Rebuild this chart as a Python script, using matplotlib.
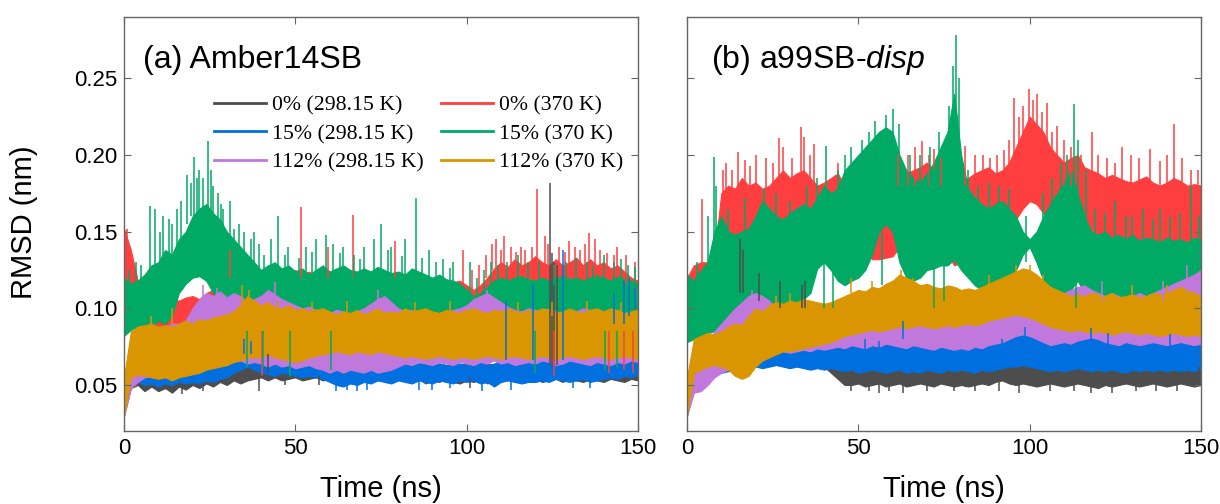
import numpy as np
import matplotlib
matplotlib.use("Agg")
import matplotlib.pyplot as plt
from matplotlib.lines import Line2D
from matplotlib.ticker import FormatStrFormatter

plt.rcParams['font.family'] = ['Liberation Sans', 'DejaVu Sans']
plt.rcParams['mathtext.fontset'] = 'custom'
plt.rcParams['mathtext.rm'] = 'Liberation Sans'
plt.rcParams['mathtext.it'] = 'Liberation Sans:italic'

# time axis (ns): band edges every 2 ns
t = np.arange(0, 151, 2)

labels = ['0% (298.15 K)', '0% (370 K)', '15% (298.15 K)',
          '15% (370 K)', '112% (298.15 K)', '112% (370 K)']
colors = ['#4d4d4d', '#ff3f3f', '#0070e0', '#00aa64', '#c078dc', '#da9600']

# ---------------- (a) Amber14SB ----------------
a0_hi = [0.045, 0.058, 0.060, 0.062, 0.060, 0.062, 0.060, 0.063, 0.061, 0.062,
         0.063, 0.062, 0.064, 0.063, 0.065, 0.064, 0.066, 0.065, 0.064, 0.066,
         0.068, 0.066, 0.065, 0.064, 0.066, 0.064, 0.065, 0.064, 0.063, 0.065,
         0.064, 0.063, 0.064, 0.062, 0.063, 0.064, 0.062, 0.063, 0.064, 0.063,
         0.064, 0.063, 0.062, 0.064, 0.063, 0.062, 0.064, 0.063, 0.062, 0.063,
         0.064, 0.063, 0.062, 0.064, 0.063, 0.062, 0.063, 0.064, 0.063, 0.062,
         0.064, 0.063, 0.070, 0.072, 0.064, 0.063, 0.062, 0.063, 0.064, 0.063,
         0.062, 0.063, 0.064, 0.063, 0.062, 0.063]
a0_lo = [0.030, 0.048, 0.050, 0.046, 0.049, 0.046, 0.048, 0.045, 0.049, 0.047,
         0.050, 0.048, 0.051, 0.049, 0.052, 0.050, 0.053, 0.051, 0.053, 0.054,
         0.055, 0.053, 0.055, 0.053, 0.054, 0.055, 0.053, 0.054, 0.055, 0.053,
         0.054, 0.053, 0.055, 0.054, 0.053, 0.055, 0.054, 0.053, 0.055, 0.054,
         0.053, 0.055, 0.052, 0.054, 0.051, 0.053, 0.052, 0.054, 0.052, 0.051,
         0.053, 0.052, 0.054, 0.051, 0.053, 0.052, 0.054, 0.052, 0.053, 0.052,
         0.054, 0.052, 0.053, 0.054, 0.052, 0.054, 0.053, 0.052, 0.054, 0.053,
         0.052, 0.054, 0.053, 0.052, 0.054, 0.053]
a0_spk = [(124.2, 0.063, 0.182), (124.8, 0.063, 0.136), (125.6, 0.063, 0.130),
          (126.4, 0.063, 0.128), (42.0, 0.058, 0.070), (39.5, 0.046, 0.055),
          (101.0, 0.048, 0.055), (17.0, 0.044, 0.050), (23.0, 0.046, 0.052),
          (47.0, 0.050, 0.056), (57.0, 0.050, 0.056)]

a1_hi = [0.152, 0.138, 0.118, 0.115, 0.112, 0.110, 0.108, 0.106, 0.105, 0.107,
         0.108, 0.106, 0.110, 0.112, 0.115, 0.118, 0.120, 0.122, 0.120, 0.122,
         0.125, 0.122, 0.120, 0.122, 0.124, 0.125, 0.122, 0.124, 0.120, 0.122,
         0.124, 0.122, 0.120, 0.122, 0.121, 0.123, 0.122, 0.120, 0.122, 0.121,
         0.120, 0.122, 0.121, 0.119, 0.120, 0.118, 0.120, 0.118, 0.117, 0.118,
         0.115, 0.112, 0.115, 0.120, 0.126, 0.130, 0.127, 0.132, 0.128, 0.130,
         0.134, 0.130, 0.128, 0.132, 0.128, 0.130, 0.133, 0.128, 0.132, 0.128,
         0.130, 0.126, 0.128, 0.124, 0.120, 0.118]
a1_lo = [0.112, 0.098, 0.090, 0.088, 0.086, 0.085, 0.086, 0.084, 0.086, 0.088,
         0.088, 0.087, 0.085, 0.086, 0.084, 0.085, 0.083, 0.084, 0.082, 0.083,
         0.084, 0.083, 0.085, 0.084, 0.083, 0.085, 0.084, 0.083, 0.084, 0.085,
         0.084, 0.083, 0.085, 0.084, 0.083, 0.084, 0.085, 0.084, 0.083, 0.084,
         0.085, 0.084, 0.083, 0.084, 0.085, 0.084, 0.083, 0.084, 0.085, 0.084,
         0.083, 0.084, 0.085, 0.084, 0.083, 0.084, 0.085, 0.084, 0.083, 0.084,
         0.083, 0.084, 0.082, 0.080, 0.082, 0.083, 0.084, 0.083, 0.082, 0.083,
         0.080, 0.078, 0.080, 0.076, 0.074, 0.072]
a1_spk = [(0.8, 0.130, 0.152), (31.0, 0.120, 0.138), (51.6, 0.120, 0.166),
          (59.5, 0.120, 0.140), (66.7, 0.120, 0.161), (79.0, 0.120, 0.144),
          (99.0, 0.115, 0.138), (107.5, 0.125, 0.142), (108.7, 0.125, 0.145),
          (111.0, 0.125, 0.147), (113.0, 0.125, 0.140), (117.0, 0.120, 0.138),
          (120.5, 0.125, 0.178), (122.8, 0.125, 0.147), (130.0, 0.125, 0.144),
          (135.7, 0.125, 0.149), (137.5, 0.120, 0.145), (144.0, 0.120, 0.140),
          (101.5, 0.110, 0.125), (103.5, 0.110, 0.128), (105.5, 0.120, 0.135),
          (110.0, 0.125, 0.138), (114.5, 0.125, 0.137), (116.0, 0.125, 0.140),
          (119.0, 0.125, 0.140), (123.8, 0.125, 0.142), (127.0, 0.125, 0.140),
          (128.8, 0.125, 0.137), (131.5, 0.125, 0.140), (133.0, 0.125, 0.138),
          (134.5, 0.125, 0.142), (139.0, 0.120, 0.138), (141.0, 0.120, 0.136),
          (143.0, 0.120, 0.135), (146.5, 0.115, 0.135), (149.0, 0.110, 0.130),
          (40.2, 0.056, 0.085), (125.5, 0.056, 0.085), (141.5, 0.058, 0.085),
          (146.0, 0.060, 0.085), (148.5, 0.058, 0.085)]

a2_hi = [0.050, 0.060, 0.062, 0.061, 0.063, 0.060, 0.062, 0.061, 0.063, 0.062,
         0.063, 0.062, 0.064, 0.062, 0.063, 0.065, 0.070, 0.076, 0.078, 0.074,
         0.068, 0.066, 0.067, 0.065, 0.066, 0.064, 0.065, 0.064, 0.066, 0.065,
         0.064, 0.066, 0.065, 0.066, 0.067, 0.065, 0.066, 0.064, 0.065, 0.066,
         0.064, 0.065, 0.063, 0.064, 0.065, 0.063, 0.064, 0.063, 0.065, 0.064,
         0.063, 0.064, 0.065, 0.063, 0.064, 0.066, 0.065, 0.067, 0.066, 0.068,
         0.066, 0.067, 0.068, 0.066, 0.067, 0.068, 0.070, 0.066, 0.067, 0.068,
         0.068, 0.067, 0.069, 0.068, 0.070, 0.069]
a2_lo = [0.040, 0.050, 0.052, 0.050, 0.051, 0.049, 0.051, 0.050, 0.052, 0.051,
         0.052, 0.051, 0.053, 0.052, 0.054, 0.055, 0.058, 0.060, 0.062, 0.060,
         0.058, 0.057, 0.056, 0.058, 0.057, 0.056, 0.055, 0.056, 0.055, 0.054,
         0.052, 0.050, 0.049, 0.051, 0.050, 0.052, 0.051, 0.053, 0.052, 0.051,
         0.053, 0.052, 0.051, 0.053, 0.052, 0.051, 0.053, 0.052, 0.051, 0.053,
         0.052, 0.053, 0.051, 0.052, 0.049, 0.052, 0.053, 0.052, 0.051, 0.052,
         0.052, 0.053, 0.052, 0.054, 0.053, 0.052, 0.053, 0.054, 0.052, 0.053,
         0.054, 0.055, 0.054, 0.056, 0.055, 0.057]
a2_spk = [(128.0, 0.066, 0.138), (119.5, 0.066, 0.115), (111.5, 0.066, 0.105),
          (143.0, 0.090, 0.110), (146.0, 0.090, 0.118), (147.5, 0.095, 0.120),
          (149.2, 0.100, 0.116), (104.5, 0.046, 0.055), (86.0, 0.047, 0.055),
          (62.0, 0.046, 0.052), (65.0, 0.047, 0.052), (68.0, 0.046, 0.052),
          (71.0, 0.047, 0.053), (90.0, 0.047, 0.053), (95.0, 0.048, 0.053),
          (113.0, 0.047, 0.053), (131.0, 0.048, 0.054), (136.0, 0.048, 0.054),
          (35.0, 0.070, 0.080), (37.0, 0.070, 0.079)]

a3_hi = [0.120, 0.116, 0.118, 0.122, 0.128, 0.130, 0.138, 0.135, 0.145, 0.150,
         0.160, 0.165, 0.168, 0.162, 0.158, 0.150, 0.145, 0.140, 0.135, 0.130,
         0.125, 0.128, 0.130, 0.126, 0.128, 0.124, 0.126, 0.122, 0.125, 0.128,
         0.124, 0.126, 0.128, 0.125, 0.124, 0.126, 0.124, 0.127, 0.125, 0.123,
         0.124, 0.122, 0.126, 0.124, 0.122, 0.120, 0.122, 0.119, 0.118, 0.116,
         0.112, 0.108, 0.110, 0.114, 0.118, 0.120, 0.118, 0.120, 0.121, 0.119,
         0.118, 0.120, 0.118, 0.120, 0.121, 0.119, 0.120, 0.118, 0.120, 0.122,
         0.120, 0.118, 0.121, 0.119, 0.118, 0.116]
a3_lo = [0.082, 0.086, 0.088, 0.090, 0.088, 0.092, 0.090, 0.095, 0.110, 0.116,
         0.120, 0.121, 0.118, 0.110, 0.104, 0.100, 0.098, 0.095, 0.092, 0.090,
         0.088, 0.086, 0.088, 0.086, 0.085, 0.087, 0.085, 0.086, 0.088, 0.086,
         0.085, 0.087, 0.086, 0.085, 0.086, 0.087, 0.085, 0.086, 0.085, 0.087,
         0.086, 0.085, 0.087, 0.086, 0.085, 0.086, 0.087, 0.085, 0.086, 0.085,
         0.086, 0.087, 0.085, 0.086, 0.085, 0.087, 0.086, 0.085, 0.086, 0.087,
         0.085, 0.086, 0.087, 0.085, 0.086, 0.085, 0.087, 0.086, 0.085, 0.086,
         0.085, 0.087, 0.086, 0.085, 0.086, 0.085]
a3_spk = [(7.6, 0.120, 0.167), (9.0, 0.120, 0.165), (11.5, 0.130, 0.160),
          (13.0, 0.130, 0.158), (15.5, 0.140, 0.165), (18.5, 0.155, 0.187),
          (19.6, 0.160, 0.182), (20.5, 0.160, 0.199), (22.0, 0.160, 0.190),
          (23.0, 0.160, 0.185), (24.6, 0.160, 0.209), (26.0, 0.155, 0.180),
          (27.5, 0.150, 0.175), (29.0, 0.140, 0.165), (30.9, 0.140, 0.170),
          (33.5, 0.135, 0.155), (38.0, 0.128, 0.150), (43.0, 0.125, 0.145),
          (45.0, 0.125, 0.160), (48.0, 0.122, 0.140), (53.0, 0.122, 0.140),
          (56.0, 0.122, 0.145), (59.0, 0.122, 0.148), (61.0, 0.122, 0.142),
          (64.0, 0.122, 0.140), (70.0, 0.122, 0.140), (73.0, 0.122, 0.145),
          (75.0, 0.122, 0.155), (78.0, 0.122, 0.140), (82.0, 0.122, 0.145),
          (85.3, 0.120, 0.172), (89.0, 0.118, 0.138), (93.0, 0.116, 0.132),
          (96.0, 0.115, 0.130), (101.0, 0.110, 0.130), (107.0, 0.115, 0.130),
          (115.0, 0.118, 0.135), (118.0, 0.118, 0.130), (132.0, 0.118, 0.133),
          (140.0, 0.118, 0.135), (145.0, 0.118, 0.132),
          (41.0, 0.120, 0.135), (47.0, 0.120, 0.135), (51.0, 0.120, 0.133),
          (55.0, 0.120, 0.137), (63.0, 0.120, 0.136), (67.0, 0.120, 0.135),
          (69.0, 0.120, 0.132), (77.0, 0.120, 0.138), (81.0, 0.120, 0.134),
          (87.0, 0.118, 0.133), (91.0, 0.116, 0.130), (95.0, 0.114, 0.126),
          (103.0, 0.108, 0.120), (105.0, 0.110, 0.125), (109.0, 0.115, 0.128),
          (111.8, 0.115, 0.130), (121.0, 0.115, 0.130), (125.5, 0.115, 0.128),
          (129.0, 0.115, 0.130), (135.0, 0.115, 0.130), (137.0, 0.115, 0.128),
          (143.0, 0.115, 0.130), (147.0, 0.115, 0.128), (149.0, 0.113, 0.127),
          (1.5, 0.110, 0.125), (3.5, 0.110, 0.130), (5.0, 0.110, 0.128),
          (10.5, 0.125, 0.150), (14.0, 0.130, 0.155), (16.5, 0.140, 0.170),
          (21.3, 0.160, 0.185), (25.3, 0.155, 0.190), (28.2, 0.150, 0.168),
          (32.0, 0.138, 0.152), (35.0, 0.130, 0.150), (37.0, 0.128, 0.145),
          (39.3, 0.125, 0.142),
          (36.0, 0.062, 0.085), (40.5, 0.062, 0.085), (48.5, 0.055, 0.085),
          (60.5, 0.060, 0.085), (120.0, 0.058, 0.085), (140.5, 0.060, 0.085),
          (144.0, 0.062, 0.085)]

a4_hi = [0.045, 0.075, 0.080, 0.085, 0.086, 0.088, 0.088, 0.090, 0.090, 0.092,
         0.100, 0.106, 0.110, 0.108, 0.111, 0.107, 0.110, 0.108, 0.104, 0.106,
         0.108, 0.112, 0.109, 0.106, 0.104, 0.102, 0.100, 0.101, 0.099, 0.098,
         0.097, 0.099, 0.098, 0.096, 0.098, 0.100, 0.103, 0.106, 0.108, 0.104,
         0.100, 0.098, 0.099, 0.097, 0.098, 0.096, 0.097, 0.098, 0.099, 0.100,
         0.102, 0.106, 0.108, 0.110, 0.107, 0.104, 0.101, 0.099, 0.098, 0.100,
         0.099, 0.098, 0.100, 0.098, 0.097, 0.099, 0.098, 0.100, 0.099, 0.098,
         0.097, 0.099, 0.098, 0.096, 0.097, 0.095]
a4_lo = [0.030, 0.048, 0.052, 0.055, 0.056, 0.058, 0.060, 0.062, 0.063, 0.065,
         0.068, 0.070, 0.072, 0.070, 0.072, 0.070, 0.068, 0.066, 0.064, 0.065,
         0.064, 0.062, 0.064, 0.062, 0.063, 0.061, 0.062, 0.063, 0.061, 0.060,
         0.058, 0.060, 0.058, 0.060, 0.059, 0.058, 0.060, 0.058, 0.059, 0.060,
         0.062, 0.064, 0.063, 0.065, 0.064, 0.063, 0.065, 0.064, 0.063, 0.065,
         0.064, 0.063, 0.065, 0.064, 0.066, 0.064, 0.065, 0.063, 0.064, 0.065,
         0.064, 0.066, 0.065, 0.063, 0.064, 0.066, 0.065, 0.064, 0.063, 0.065,
         0.064, 0.063, 0.065, 0.064, 0.066, 0.065]
a4_spk = [(44.0, 0.100, 0.117), (74.0, 0.100, 0.112), (106.0, 0.100, 0.112),
          (23.0, 0.105, 0.115), (27.0, 0.100, 0.113)]

a5_hi = [0.055, 0.085, 0.088, 0.089, 0.090, 0.088, 0.089, 0.088, 0.090, 0.092,
         0.090, 0.093, 0.092, 0.094, 0.095, 0.096, 0.098, 0.102, 0.108, 0.105,
         0.102, 0.104, 0.101, 0.100, 0.102, 0.099, 0.100, 0.098, 0.099, 0.100,
         0.098, 0.096, 0.098, 0.097, 0.099, 0.096, 0.098, 0.100, 0.097, 0.098,
         0.097, 0.100, 0.098, 0.099, 0.100, 0.098, 0.097, 0.099, 0.098, 0.097,
         0.099, 0.100, 0.098, 0.097, 0.099, 0.098, 0.100, 0.098, 0.097, 0.099,
         0.098, 0.100, 0.099, 0.097, 0.098, 0.100, 0.098, 0.097, 0.099, 0.100,
         0.098, 0.100, 0.099, 0.097, 0.098, 0.099]
a5_lo = [0.030, 0.055, 0.057, 0.056, 0.055, 0.054, 0.055, 0.053, 0.055, 0.056,
         0.057, 0.058, 0.060, 0.061, 0.062, 0.063, 0.065, 0.066, 0.068, 0.068,
         0.068, 0.070, 0.068, 0.067, 0.066, 0.065, 0.066, 0.068, 0.069, 0.070,
         0.071, 0.072, 0.071, 0.070, 0.072, 0.071, 0.070, 0.072, 0.071, 0.070,
         0.069, 0.068, 0.069, 0.068, 0.067, 0.068, 0.069, 0.068, 0.067, 0.068,
         0.068, 0.067, 0.068, 0.069, 0.068, 0.067, 0.068, 0.069, 0.068, 0.067,
         0.068, 0.069, 0.068, 0.067, 0.068, 0.069, 0.068, 0.067, 0.068, 0.069,
         0.068, 0.067, 0.068, 0.069, 0.068, 0.067]
a5_spk = [(34.5, 0.100, 0.115), (36.5, 0.100, 0.112), (8.0, 0.085, 0.095),
          (14.0, 0.090, 0.100), (45.0, 0.095, 0.105), (55.0, 0.095, 0.104),
          (65.0, 0.095, 0.105), (85.0, 0.095, 0.104), (95.0, 0.095, 0.105),
          (115.0, 0.095, 0.104), (125.0, 0.095, 0.104), (135.0, 0.095, 0.105),
          (145.0, 0.095, 0.104)]

# ---------------- (b) a99SB-disp ----------------
b0_hi = [0.045, 0.065, 0.070, 0.072, 0.074, 0.076, 0.078, 0.080, 0.080, 0.082,
         0.082, 0.082, 0.080, 0.080, 0.078, 0.076, 0.076, 0.074, 0.072, 0.070,
         0.070, 0.068, 0.068, 0.067, 0.068, 0.066, 0.067, 0.068, 0.066, 0.065,
         0.066, 0.064, 0.065, 0.063, 0.066, 0.064, 0.065, 0.063, 0.064, 0.066,
         0.064, 0.065, 0.063, 0.064, 0.066, 0.067, 0.068, 0.070, 0.069, 0.068,
         0.066, 0.065, 0.066, 0.064, 0.065, 0.063, 0.064, 0.065, 0.063, 0.064,
         0.065, 0.064, 0.063, 0.065, 0.064, 0.063, 0.065, 0.064, 0.063, 0.064,
         0.065, 0.064, 0.063, 0.064, 0.065, 0.064]
b0_lo = [0.030, 0.050, 0.055, 0.058, 0.060, 0.062, 0.064, 0.065, 0.066, 0.066,
         0.066, 0.066, 0.065, 0.065, 0.064, 0.064, 0.063, 0.063, 0.062, 0.062,
         0.062, 0.058, 0.054, 0.050, 0.050, 0.051, 0.049, 0.050, 0.051, 0.049,
         0.050, 0.051, 0.049, 0.050, 0.051, 0.050, 0.049, 0.051, 0.050, 0.049,
         0.050, 0.049, 0.050, 0.051, 0.050, 0.052, 0.053, 0.051, 0.050, 0.051,
         0.050, 0.049, 0.050, 0.051, 0.050, 0.049, 0.050, 0.051, 0.050, 0.049,
         0.048, 0.050, 0.049, 0.050, 0.051, 0.050, 0.049, 0.050, 0.051, 0.050,
         0.049, 0.050, 0.051, 0.050, 0.049, 0.050]
b0_spk = [(15.5, 0.110, 0.145), (16.2, 0.110, 0.138), (21.0, 0.105, 0.123),
          (27.0, 0.100, 0.118), (33.5, 0.100, 0.115), (34.5, 0.100, 0.118),
          (53.0, 0.046, 0.055), (56.0, 0.045, 0.055), (78.0, 0.046, 0.055),
          (106.0, 0.046, 0.055), (124.0, 0.045, 0.055), (149.5, 0.050, 0.062),
          (48.0, 0.046, 0.052), (59.0, 0.046, 0.052), (63.0, 0.045, 0.052),
          (70.0, 0.046, 0.052), (84.0, 0.046, 0.052), (91.0, 0.046, 0.052),
          (97.0, 0.045, 0.052), (113.0, 0.046, 0.052), (118.0, 0.045, 0.052),
          (131.0, 0.046, 0.052), (137.0, 0.046, 0.052), (143.0, 0.046, 0.052)]

b1_hi = [0.120, 0.128, 0.130, 0.130, 0.135, 0.175, 0.180, 0.178, 0.185, 0.180,
         0.182, 0.178, 0.180, 0.185, 0.190, 0.185, 0.188, 0.190, 0.185, 0.180,
         0.182, 0.185, 0.188, 0.180, 0.178, 0.175, 0.170, 0.168, 0.172, 0.175,
         0.180, 0.185, 0.188, 0.190, 0.192, 0.195, 0.190, 0.188, 0.185, 0.180,
         0.182, 0.185, 0.188, 0.190, 0.192, 0.188, 0.190, 0.195, 0.205, 0.215,
         0.225, 0.220, 0.215, 0.205, 0.200, 0.195, 0.198, 0.200, 0.192, 0.190,
         0.188, 0.185, 0.187, 0.185, 0.183, 0.182, 0.184, 0.186, 0.182, 0.180,
         0.182, 0.185, 0.183, 0.180, 0.181, 0.180]
b1_lo = [0.100, 0.105, 0.110, 0.115, 0.118, 0.140, 0.140, 0.142, 0.145, 0.145,
         0.145, 0.142, 0.140, 0.145, 0.148, 0.150, 0.148, 0.145, 0.140, 0.138,
         0.140, 0.142, 0.145, 0.140, 0.138, 0.140, 0.138, 0.132, 0.132, 0.133,
         0.134, 0.140, 0.145, 0.148, 0.150, 0.148, 0.145, 0.140, 0.135, 0.128,
         0.130, 0.140, 0.142, 0.145, 0.145, 0.148, 0.150, 0.152, 0.158, 0.165,
         0.170, 0.168, 0.162, 0.158, 0.155, 0.150, 0.148, 0.145, 0.140, 0.138,
         0.136, 0.135, 0.138, 0.136, 0.134, 0.132, 0.135, 0.133, 0.131, 0.133,
         0.134, 0.132, 0.135, 0.133, 0.130, 0.132]
b1_spk = [(4.4, 0.125, 0.171), (10.5, 0.170, 0.190), (14.9, 0.180, 0.202),
          (20.0, 0.180, 0.200), (26.8, 0.180, 0.211), (28.0, 0.180, 0.205),
          (33.2, 0.180, 0.218), (34.2, 0.180, 0.212), (37.0, 0.180, 0.207),
          (44.0, 0.180, 0.195), (68.5, 0.190, 0.209), (72.0, 0.190, 0.204),
          (81.0, 0.180, 0.206), (92.5, 0.190, 0.203), (95.5, 0.200, 0.237),
          (98.0, 0.210, 0.232), (99.8, 0.220, 0.243), (102.0, 0.210, 0.240),
          (105.2, 0.200, 0.234), (108.0, 0.190, 0.219), (118.2, 0.185, 0.215),
          (127.0, 0.180, 0.205), (135.0, 0.180, 0.204), (142.0, 0.180, 0.220),
          (147.0, 0.180, 0.190),
          (11.5, 0.170, 0.195), (13.0, 0.170, 0.190), (17.0, 0.170, 0.197),
          (18.5, 0.170, 0.193), (23.0, 0.170, 0.198), (25.0, 0.170, 0.195),
          (30.5, 0.170, 0.198), (36.0, 0.170, 0.200), (61.5, 0.180, 0.200),
          (64.5, 0.180, 0.200), (66.5, 0.180, 0.205), (70.5, 0.180, 0.200),
          (74.0, 0.180, 0.198), (84.0, 0.180, 0.200), (86.5, 0.180, 0.200),
          (88.5, 0.180, 0.198), (90.5, 0.180, 0.200), (94.0, 0.190, 0.210),
          (97.0, 0.200, 0.225), (101.0, 0.210, 0.236), (103.5, 0.200, 0.228),
          (106.5, 0.190, 0.215), (110.0, 0.180, 0.210), (112.0, 0.180, 0.205),
          (115.0, 0.180, 0.200), (120.0, 0.175, 0.200), (122.5, 0.175, 0.198),
          (125.0, 0.175, 0.195), (129.5, 0.175, 0.200), (132.0, 0.175, 0.198),
          (138.0, 0.175, 0.196), (140.0, 0.175, 0.200), (144.5, 0.175, 0.198),
          (149.0, 0.170, 0.190)]

b2_hi = [0.045, 0.062, 0.066, 0.068, 0.070, 0.072, 0.074, 0.075, 0.076, 0.077,
         0.078, 0.079, 0.080, 0.078, 0.079, 0.080, 0.079, 0.078, 0.080, 0.078,
         0.078, 0.079, 0.080, 0.081, 0.080, 0.081, 0.082, 0.083, 0.082, 0.083,
         0.082, 0.081, 0.080, 0.079, 0.080, 0.079, 0.078, 0.079, 0.080, 0.081,
         0.080, 0.079, 0.081, 0.080, 0.079, 0.081, 0.083, 0.085, 0.087, 0.088,
         0.087, 0.085, 0.083, 0.081, 0.082, 0.083, 0.082, 0.084, 0.086, 0.088,
         0.086, 0.084, 0.083, 0.082, 0.083, 0.082, 0.081, 0.082, 0.081, 0.083,
         0.082, 0.083, 0.085, 0.084, 0.083, 0.082]
b2_lo = [0.040, 0.052, 0.055, 0.056, 0.057, 0.058, 0.059, 0.060, 0.061, 0.061,
         0.062, 0.061, 0.062, 0.063, 0.062, 0.061, 0.062, 0.061, 0.060, 0.061,
         0.060, 0.061, 0.060, 0.059, 0.060, 0.058, 0.059, 0.060, 0.059, 0.058,
         0.059, 0.060, 0.058, 0.059, 0.058, 0.060, 0.059, 0.058, 0.060, 0.059,
         0.060, 0.059, 0.058, 0.060, 0.059, 0.060, 0.061, 0.062, 0.062, 0.063,
         0.062, 0.061, 0.060, 0.059, 0.060, 0.059, 0.060, 0.061, 0.060, 0.059,
         0.060, 0.059, 0.060, 0.059, 0.058, 0.060, 0.059, 0.060, 0.059, 0.060,
         0.059, 0.060, 0.059, 0.060, 0.059, 0.060]
b2_spk = [(63.0, 0.080, 0.092), (98.5, 0.080, 0.088), (118.0, 0.080, 0.087),
          (52.0, 0.072, 0.080), (56.0, 0.072, 0.079), (92.0, 0.072, 0.080),
          (123.0, 0.074, 0.084), (141.0, 0.074, 0.083)]

b3_hi = [0.122, 0.118, 0.125, 0.130, 0.150, 0.160, 0.150, 0.148, 0.150, 0.152,
         0.160, 0.170, 0.165, 0.160, 0.158, 0.162, 0.165, 0.168, 0.165, 0.172,
         0.180, 0.175, 0.178, 0.190, 0.195, 0.200, 0.205, 0.210, 0.215, 0.218,
         0.215, 0.200, 0.190, 0.185, 0.182, 0.188, 0.195, 0.205, 0.215, 0.240,
         0.200, 0.178, 0.172, 0.168, 0.165, 0.168, 0.170, 0.165, 0.160, 0.150,
         0.145, 0.150, 0.160, 0.168, 0.175, 0.182, 0.190, 0.175, 0.160, 0.150,
         0.148, 0.150, 0.146, 0.148, 0.145, 0.148, 0.144, 0.146, 0.145, 0.143,
         0.146, 0.144, 0.145, 0.143, 0.146, 0.145]
b3_lo = [0.078, 0.080, 0.082, 0.084, 0.085, 0.086, 0.088, 0.088, 0.090, 0.095,
         0.098, 0.100, 0.100, 0.098, 0.100, 0.102, 0.104, 0.106, 0.110, 0.126,
         0.130, 0.125, 0.118, 0.115, 0.118, 0.120, 0.125, 0.135, 0.150, 0.155,
         0.150, 0.130, 0.120, 0.118, 0.120, 0.125, 0.126, 0.128, 0.128, 0.132,
         0.125, 0.120, 0.115, 0.112, 0.110, 0.112, 0.115, 0.118, 0.125, 0.135,
         0.140, 0.130, 0.118, 0.112, 0.110, 0.108, 0.112, 0.118, 0.110, 0.108,
         0.106, 0.105, 0.108, 0.106, 0.104, 0.105, 0.106, 0.104, 0.105, 0.106,
         0.104, 0.105, 0.106, 0.104, 0.105, 0.106]
b3_spk = [(7.85, 0.130, 0.199), (8.5, 0.130, 0.180), (22.5, 0.160, 0.178),
          (40.6, 0.170, 0.206), (46.0, 0.180, 0.200), (58.0, 0.210, 0.226),
          (60.2, 0.210, 0.230), (62.0, 0.200, 0.220), (76.5, 0.200, 0.232),
          (77.5, 0.220, 0.258), (78.4, 0.220, 0.278), (79.5, 0.210, 0.250),
          (112.9, 0.180, 0.233), (114.0, 0.170, 0.210), (116.5, 0.150, 0.190),
          (125.0, 0.145, 0.170), (133.0, 0.145, 0.165), (138.0, 0.140, 0.165),
          (147.0, 0.140, 0.180),
          (3.0, 0.110, 0.130), (6.0, 0.120, 0.160), (12.0, 0.140, 0.165),
          (17.0, 0.150, 0.172), (26.0, 0.150, 0.175), (30.0, 0.150, 0.170),
          (35.0, 0.155, 0.180), (38.0, 0.160, 0.185), (44.0, 0.170, 0.190),
          (48.0, 0.180, 0.205), (51.0, 0.190, 0.210), (53.0, 0.195, 0.215),
          (55.0, 0.200, 0.222), (65.0, 0.180, 0.200), (68.0, 0.180, 0.200),
          (71.0, 0.180, 0.205), (73.5, 0.190, 0.215), (82.0, 0.170, 0.190),
          (85.0, 0.160, 0.180), (88.0, 0.160, 0.182), (91.0, 0.160, 0.180),
          (94.0, 0.160, 0.178), (104.0, 0.150, 0.175), (106.5, 0.160, 0.185),
          (109.0, 0.170, 0.195), (111.0, 0.175, 0.200), (119.0, 0.140, 0.165),
          (122.0, 0.140, 0.162), (128.0, 0.140, 0.160), (130.0, 0.140, 0.160),
          (136.0, 0.140, 0.158), (141.0, 0.140, 0.160), (144.0, 0.140, 0.162),
          (149.5, 0.140, 0.160),
          (40.0, 0.100, 0.130), (42.5, 0.100, 0.130), (57.0, 0.115, 0.150),
          (72.0, 0.100, 0.130), (75.0, 0.105, 0.130), (99.0, 0.130, 0.160),
          (113.5, 0.100, 0.130)]

b4_hi = [0.050, 0.060, 0.062, 0.075, 0.085, 0.090, 0.095, 0.100, 0.104, 0.108,
         0.110, 0.108, 0.105, 0.100, 0.102, 0.100, 0.098, 0.100, 0.102, 0.100,
         0.102, 0.100, 0.103, 0.104, 0.102, 0.104, 0.103, 0.105, 0.104, 0.106,
         0.105, 0.104, 0.106, 0.105, 0.104, 0.106, 0.104, 0.105, 0.104, 0.106,
         0.105, 0.106, 0.105, 0.104, 0.106, 0.108, 0.106, 0.108, 0.110, 0.108,
         0.106, 0.105, 0.108, 0.106, 0.108, 0.110, 0.112, 0.114, 0.115, 0.112,
         0.110, 0.108, 0.110, 0.108, 0.106, 0.108, 0.110, 0.108, 0.110, 0.112,
         0.114, 0.116, 0.118, 0.120, 0.122, 0.125]
b4_lo = [0.030, 0.045, 0.046, 0.050, 0.055, 0.058, 0.060, 0.062, 0.064, 0.066,
         0.068, 0.070, 0.070, 0.071, 0.072, 0.071, 0.072, 0.073, 0.072, 0.074,
         0.073, 0.074, 0.075, 0.074, 0.076, 0.075, 0.074, 0.076, 0.075, 0.077,
         0.076, 0.075, 0.074, 0.076, 0.075, 0.074, 0.073, 0.075, 0.074, 0.073,
         0.074, 0.073, 0.075, 0.074, 0.076, 0.077, 0.078, 0.080, 0.082, 0.083,
         0.082, 0.080, 0.078, 0.076, 0.077, 0.078, 0.077, 0.079, 0.080, 0.081,
         0.080, 0.078, 0.077, 0.076, 0.078, 0.077, 0.076, 0.077, 0.078, 0.077,
         0.076, 0.077, 0.078, 0.077, 0.076, 0.077]
b4_spk = [(19.0, 0.100, 0.112), (146.0, 0.110, 0.128), (121.0, 0.105, 0.118),
          (139.0, 0.105, 0.118)]

b5_hi = [0.055, 0.080, 0.082, 0.084, 0.083, 0.085, 0.088, 0.090, 0.089, 0.095,
         0.100, 0.098, 0.102, 0.104, 0.103, 0.105, 0.104, 0.106, 0.105, 0.104,
         0.103, 0.104, 0.106, 0.108, 0.110, 0.112, 0.111, 0.114, 0.113, 0.116,
         0.118, 0.122, 0.120, 0.118, 0.115, 0.116, 0.114, 0.113, 0.115, 0.114,
         0.112, 0.113, 0.112, 0.114, 0.116, 0.118, 0.120, 0.122, 0.124, 0.126,
         0.125, 0.122, 0.118, 0.114, 0.112, 0.110, 0.108, 0.109, 0.108, 0.110,
         0.109, 0.108, 0.110, 0.107, 0.108, 0.109, 0.107, 0.108, 0.110, 0.109,
         0.110, 0.112, 0.114, 0.112, 0.110, 0.108]
b5_lo = [0.030, 0.058, 0.060, 0.062, 0.063, 0.062, 0.060, 0.056, 0.054, 0.056,
         0.062, 0.066, 0.068, 0.070, 0.072, 0.072, 0.073, 0.074, 0.075, 0.076,
         0.077, 0.078, 0.080, 0.082, 0.083, 0.084, 0.085, 0.086, 0.085, 0.086,
         0.087, 0.088, 0.087, 0.088, 0.089, 0.088, 0.087, 0.088, 0.089, 0.088,
         0.089, 0.090, 0.089, 0.090, 0.092, 0.093, 0.094, 0.095, 0.096, 0.095,
         0.094, 0.092, 0.090, 0.088, 0.087, 0.086, 0.085, 0.086, 0.085, 0.084,
         0.085, 0.084, 0.083, 0.084, 0.085, 0.084, 0.083, 0.084, 0.083, 0.082,
         0.083, 0.084, 0.083, 0.082, 0.083, 0.082]
b5_spk = [(62.5, 0.118, 0.125), (100.0, 0.124, 0.128), (26.0, 0.100, 0.108),
          (30.0, 0.100, 0.110), (48.0, 0.110, 0.120), (54.0, 0.110, 0.118),
          (66.0, 0.110, 0.120), (88.0, 0.112, 0.122), (96.0, 0.120, 0.128),
          (104.0, 0.115, 0.122), (130.0, 0.105, 0.115), (140.0, 0.105, 0.115)]

panels = [
    ('(a) Amber14SB', 0.037,
     [a0_lo, a1_lo, a2_lo, a3_lo, a4_lo, a5_lo],
     [a0_hi, a1_hi, a2_hi, a3_hi, a4_hi, a5_hi],
     [a0_spk, a1_spk, a2_spk, a3_spk, a4_spk, a5_spk]),
    (r'(b) a99SB-$\mathit{disp}$', 0.047,
     [b0_lo, b1_lo, b2_lo, b3_lo, b4_lo, b5_lo],
     [b0_hi, b1_hi, b2_hi, b3_hi, b4_hi, b5_hi],
     [b0_spk, b1_spk, b2_spk, b3_spk, b4_spk, b5_spk]),
]

W, H = 1220, 504
fig = plt.figure(figsize=(W / 100, H / 100), dpi=100)
ax1 = fig.add_axes([124 / W, 73 / H, 514 / W, 414 / H])
ax2 = fig.add_axes([687 / W, 73 / H, 514 / W, 414 / H])
edge = '#666666'

for ax, (title, tx, los, his, spks) in zip([ax1, ax2], panels):
    for lo, hi, c in zip(los, his, colors):
        ax.fill_between(t, lo, hi, color=c, lw=0.8, edgecolor=c)
    for spk, c in zip(spks, colors):
        s = np.array(spk)
        ax.vlines(s[:, 0], s[:, 1], s[:, 2], colors=c, lw=1.1)
    ax.set_xlim(0, 150)
    ax.set_ylim(0.02, 0.29)
    ax.set_xticks([0, 50, 100, 150])
    ax.set_yticks([0.05, 0.10, 0.15, 0.20, 0.25])
    ax.yaxis.set_major_formatter(FormatStrFormatter('%.2f'))
    ax.tick_params(direction='in', top=True, right=True, length=5, width=0.8,
                   color=edge, labelsize=16, pad=5)
    for sp in ax.spines.values():
        sp.set_color(edge)
        sp.set_linewidth(1.0)
    ax.text(tx, 0.878, title, transform=ax.transAxes, fontsize=23,
            ha='left', va='baseline')

ax2.tick_params(labelleft=False)

handles = [Line2D([], [], color=c, lw=2) for c in colors]
order = [0, 2, 4, 1, 3, 5]
ax1.legend([handles[i] for i in order], [labels[i] for i in order], ncol=2,
           loc='upper left', bbox_to_anchor=(0.175, 0.81), frameon=False,
           prop={'family': 'Liberation Serif', 'size': 15.7},
           handlelength=2.4, handletextpad=0.25, columnspacing=0.8,
           labelspacing=0.36, borderpad=0, borderaxespad=0)

fig.text(381 / W, 1 - 496.7 / H, 'Time (ns)', ha='center', va='baseline', fontsize=21)
fig.text(944 / W, 1 - 496.7 / H, 'Time (ns)', ha='center', va='baseline', fontsize=21)
fig.text(24 / W, 1 - 222 / H, 'RMSD (nm)', rotation=90, ha='center', va='center', fontsize=21)

fig.savefig('out.png', dpi=100)
